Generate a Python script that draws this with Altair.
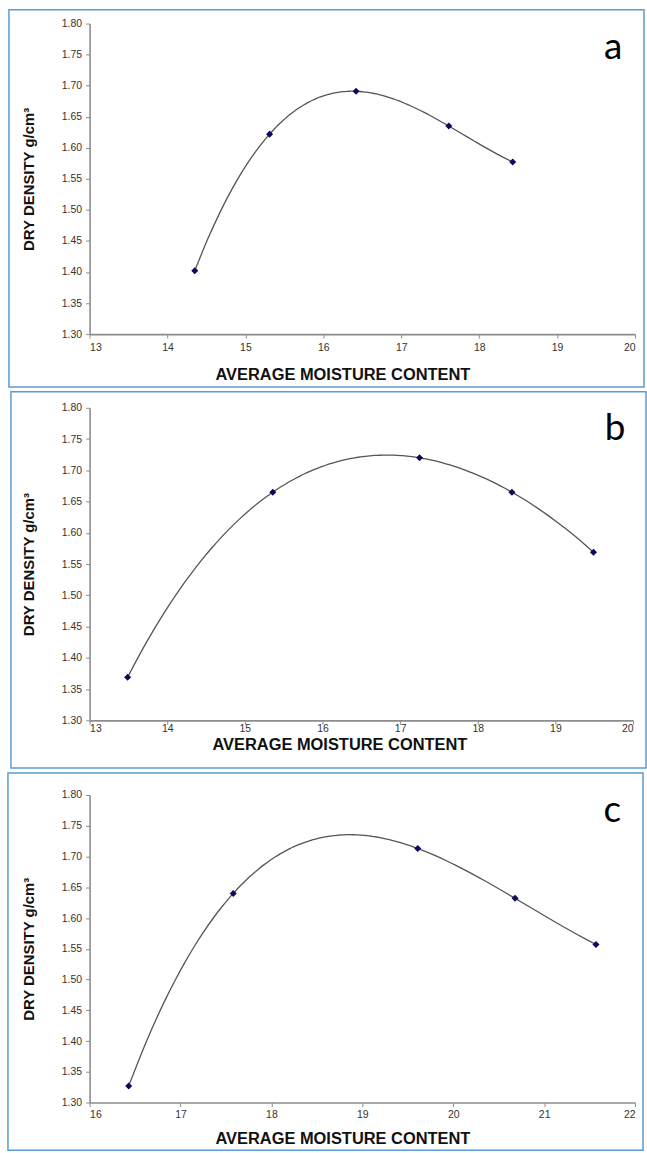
import altair as alt
import pandas as pd

# ---- data ----
moisture_a = [14.35, 15.31, 16.42, 17.61, 18.43]
density_a = [1.402, 1.622, 1.691, 1.635, 1.577]

moisture_b = [13.49, 15.36, 17.25, 18.44, 19.49]
density_b = [1.369, 1.665, 1.720, 1.665, 1.569]

moisture_c = [16.43, 17.58, 19.61, 20.68, 21.57]
density_c = [1.327, 1.640, 1.713, 1.632, 1.557]

x_ticks_ab = [13, 14, 15, 16, 17, 18, 19, 20]
x_ticks_c = [16, 17, 18, 19, 20, 21, 22]
y_ticks = [1.30, 1.35, 1.40, 1.45, 1.50, 1.55, 1.60, 1.65, 1.70, 1.75, 1.80]
panel_letters = ["a", "b", "c"]

X_TITLE = "AVERAGE MOISTURE CONTENT"
Y_TITLE = "DRY DENSITY g/cm³"
FRAME = "#5b9bd5"


def panel(mx, dy, xticks, letter, w, h, frame, title_x, letter_xy,
          lab_pad, title_pad):
    df = pd.DataFrame({"moisture": mx, "density": dy})
    xs = alt.Scale(domain=[xticks[0], xticks[-1]], nice=False, zero=False)
    ys = alt.Scale(domain=[y_ticks[0], y_ticks[-1]], nice=False, zero=False)
    xax = alt.Axis(values=xticks, format="d", title=X_TITLE, titleX=title_x,
                   labelPadding=lab_pad, titlePadding=title_pad)
    yax = alt.Axis(values=y_ticks, format=".2f", title=Y_TITLE, titlePadding=25)

    fx0, fx1, fy0, fy1 = frame
    border = alt.Chart(alt.Data(values=[{"k": 1}])).mark_rect(
        filled=False, stroke=FRAME, strokeWidth=1.5
    ).encode(x=alt.value(fx0), x2=alt.value(fx1), y=alt.value(fy0), y2=alt.value(fy1))

    curve = alt.Chart(df).transform_regression(
        "moisture", "density", method="poly", order=4,
        extent=[min(mx), max(mx)]
    ).mark_line(color="#555555", strokeWidth=1.3, interpolate="monotone").encode(
        x=alt.X("moisture:Q", scale=xs, axis=xax),
        y=alt.Y("density:Q", scale=ys, axis=yax),
    )

    pts = alt.Chart(df).mark_point(
        shape="diamond", filled=True, size=50, color="#0b0b5e", opacity=1
    ).encode(
        x=alt.X("moisture:Q", scale=xs, axis=xax),
        y=alt.Y("density:Q", scale=ys, axis=yax),
    )

    lab = alt.Chart(alt.Data(values=[{"t": letter}])).mark_text(
        font="Lato", fontSize=37, color="#000000", align="center",
        baseline="alphabetic"
    ).encode(text="t:N", x=alt.value(letter_xy[0]), y=alt.value(letter_xy[1]))

    return alt.layer(border, curve, pts, lab).properties(width=w, height=h)


pa = panel(moisture_a, density_a, x_ticks_ab, panel_letters[0], 548, 312,
           (-81, 557, -14, 365), 254, (526, 36), 4, 14)
pb = panel(moisture_b, density_b, x_ticks_ab, panel_letters[1], 546, 314,
           (-79, 559, -16, 362), 251, (528, 32), -1, 3)
pc = panel(moisture_c, density_c, x_ticks_c, panel_letters[2], 548, 309,
           (-82, 556, -22, 357), 254, (525, 27), 3, 11)

chart = alt.vconcat(pa, pb, pc, spacing=3).properties(
    padding={"left": 7, "top": 6, "right": 0, "bottom": 0}
).configure_view(stroke=None).configure_axis(
    grid=False,
    domainColor="#8c8c8c", domainWidth=1.6,
    tickColor="#8c8c8c", tickWidth=1, tickSize=4,
    labelFont="Liberation Sans", labelFontSize=10.5, labelColor="#333333",
    labelPadding=4,
    titleFont="Liberation Sans", titleFontWeight="bold", titleColor="#111111",
).configure_axisX(titleFontSize=16.5).configure_axisY(titleFontSize=15)

chart.save("out.html", embed_options={"renderer": "svg", "actions": False})
